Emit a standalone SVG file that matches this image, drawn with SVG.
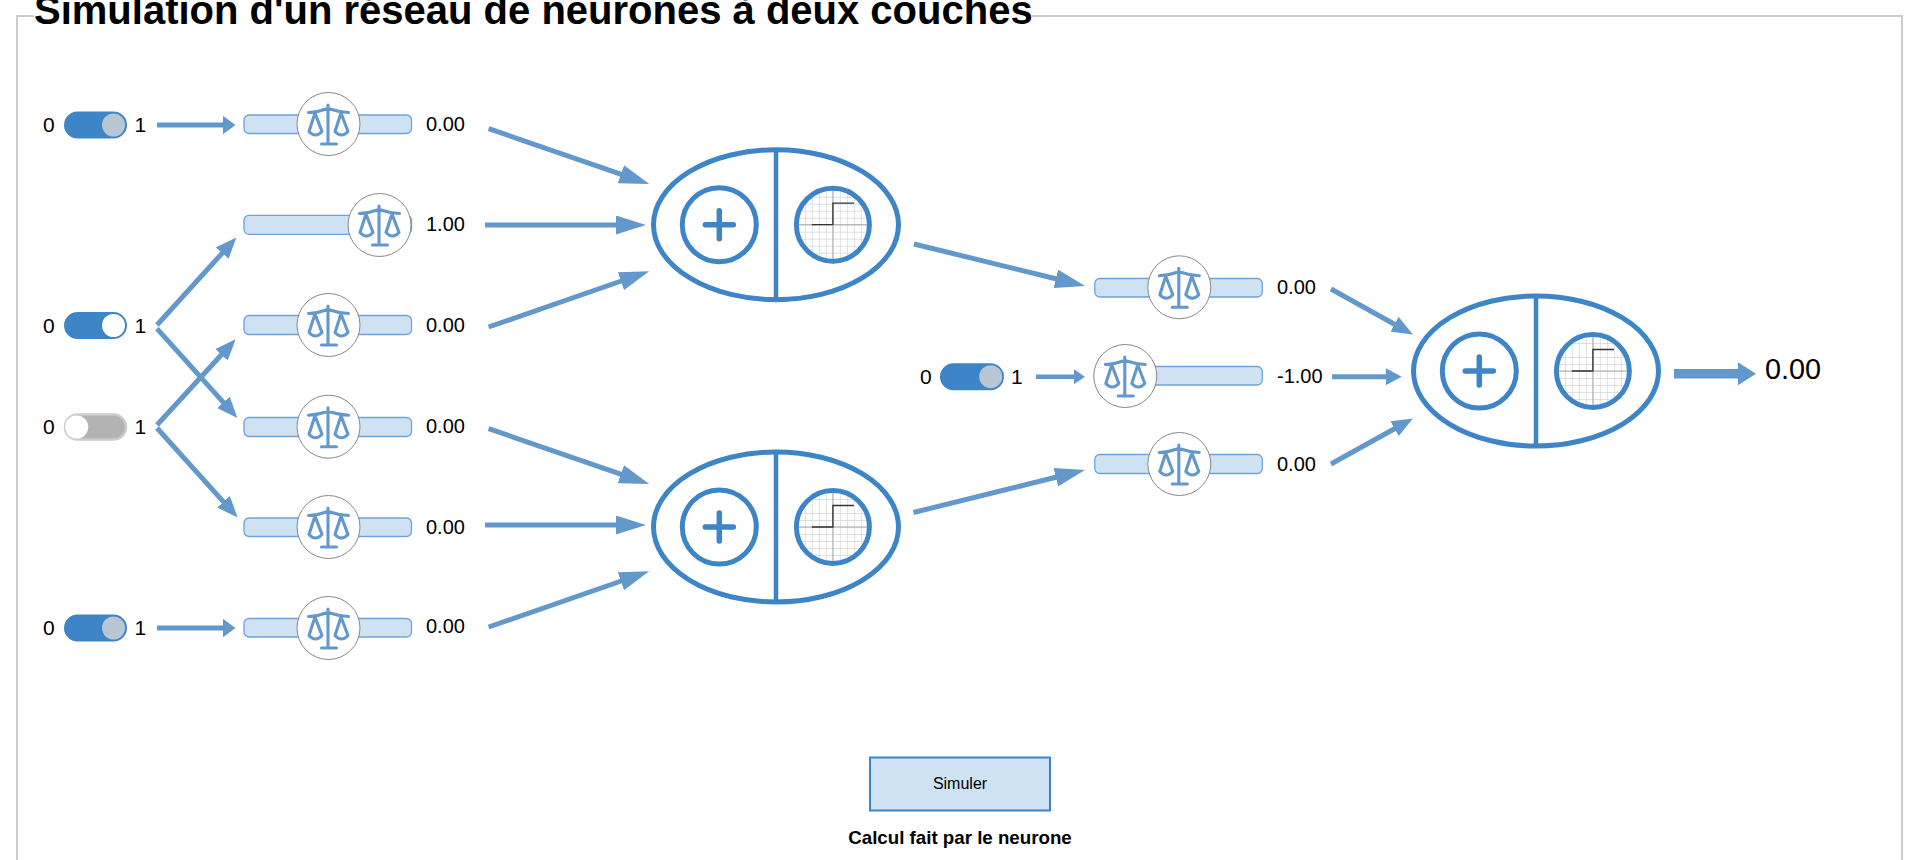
<svg xmlns="http://www.w3.org/2000/svg" width="1920" height="860" viewBox="0 0 1920 860">
<style>
text{font-family:"Liberation Sans",Arial,sans-serif;fill:#000}
.v{font-size:20px}
.t{font-size:21px}
.tr{fill:#3d85c6;stroke:#3d85c6;stroke-width:2}
.off{fill:#b3b3b3;stroke:#ccc;stroke-width:2.5}
.kg{fill:#b9c6d3}
.kw{fill:#fff}
.sl{fill:#cfe2f3;stroke:#6fa3d8;stroke-width:1.3}
.ar{stroke:#6398cc;stroke-width:5;fill:none}
.ne{fill:#fff;stroke:#3d85c6;stroke-width:5}
.nl{stroke:#3d85c6;stroke-width:4.5;fill:none}
.ic{stroke:#6398cc;stroke-width:3.1;fill:none;stroke-linecap:round;stroke-linejoin:round}
</style>
<defs>
<marker id="mh" markerUnits="userSpaceOnUse" markerWidth="13" markerHeight="19" refX="2" refY="9.5" orient="auto"><path d="M0 0L13 9.5L0 19Z" fill="#6398cc"/></marker>
<marker id="md" markerUnits="userSpaceOnUse" markerWidth="21" markerHeight="17" refX="2" refY="8.5" orient="auto"><path d="M0 0L21 8.5L0 17Z" fill="#6398cc"/></marker>
<marker id="mn" markerUnits="userSpaceOnUse" markerWidth="30" markerHeight="19" refX="2" refY="9.5" orient="auto"><path d="M0 0L30 9.5L0 19Z" fill="#6398cc"/></marker>
<marker id="ms" markerUnits="userSpaceOnUse" markerWidth="11" markerHeight="15" refX="2" refY="7.5" orient="auto"><path d="M0 0L11 7.5L0 15Z" fill="#6398cc"/></marker>
<marker id="mt" markerUnits="userSpaceOnUse" markerWidth="16" markerHeight="17" refX="2" refY="8.5" orient="auto"><path d="M0 0L16 8.5L0 17Z" fill="#6398cc"/></marker>
<marker id="mo" markerUnits="userSpaceOnUse" markerWidth="18" markerHeight="23" refX="1" refY="11.5" orient="auto"><path d="M0 0L18 11.5L0 23Z" fill="#6398cc"/></marker>
<pattern id="grid" patternUnits="userSpaceOnUse" width="7" height="7"><rect width="7" height="7" fill="#fff"/><path d="M0 0V7M0 0H7" stroke="#d6d6d6" stroke-width="1.4" fill="none"/></pattern>
<g id="scale">
<circle r="31.5" fill="#fff" stroke="#888" stroke-width="1"/>
<path class="ic" d="M-0.5-19V19M-7 20H8M-20-11.5Q-10-12-0.5-15.5Q10-12 20-11.5M-13.5-11L-19.5 7.5Q-13 14.5-6.5 7.5ZM12.5-11L6.5 7.5Q13 14.5 19.5 7.5Z"/>
</g>
<g id="neuron">
<ellipse class="ne" rx="122.5" ry="75"/>
<path class="nl" d="M0-75V75"/>
<circle class="ne" cx="-56.7" r="37"/>
<path d="M-70.7 0H-42.7M-56.7-14V14" stroke="#3d85c6" stroke-width="5.5" stroke-linecap="round" fill="none"/>
<g transform="translate(56.9 0)">
<circle r="35" fill="url(#grid)"/>
<path d="M0-35V35M-35 0H35" stroke="#aaa" stroke-width="1" fill="none"/>
<path d="M-21 0H0V-21.5H21" stroke="#333" stroke-width="1.3" fill="none"/>
<circle r="36.5" fill="none" stroke="#3d85c6" stroke-width="5"/>
</g>
</g>
</defs>
<rect width="1920" height="860" fill="#fff"/>
<path id="frame" d="M34 16H17V860M1032 16H1902V860" fill="none" stroke="#ccc" stroke-width="2"/>
<text id="title" x="34" y="24" font-size="40" font-weight="bold">Simulation d'un réseau de neurones à deux couches</text>
<g id="connectors">
<line class="ar" x1="157" y1="125" x2="224.5" y2="125" marker-end="url(#mh)"/>
<line class="ar" x1="157" y1="325" x2="223.6" y2="251.6" marker-end="url(#md)"/>
<line class="ar" x1="157" y1="328.7" x2="224.7" y2="403.9" marker-end="url(#md)"/>
<line class="ar" x1="157" y1="425" x2="222.8" y2="353.3" marker-end="url(#md)"/>
<line class="ar" x1="157" y1="428" x2="224.9" y2="503.3" marker-end="url(#md)"/>
<line class="ar" x1="157" y1="628" x2="224.5" y2="628" marker-end="url(#mh)"/>
<line class="ar" x1="488.6" y1="128.6" x2="622.8" y2="174.8" marker-end="url(#mn)"/>
<line class="ar" x1="485" y1="225" x2="618" y2="225" marker-end="url(#mn)"/>
<line class="ar" x1="488.6" y1="327" x2="622.8" y2="280.5" marker-end="url(#mn)"/>
<line class="ar" x1="488.6" y1="428.6" x2="622.8" y2="474.8" marker-end="url(#mn)"/>
<line class="ar" x1="485" y1="525" x2="618" y2="525" marker-end="url(#mn)"/>
<line class="ar" x1="488.6" y1="627" x2="622.8" y2="580.5" marker-end="url(#mn)"/>
<line class="ar" x1="914" y1="244" x2="1057.8" y2="279.3" marker-end="url(#mn)"/>
<line class="ar" x1="913.5" y1="512.5" x2="1057.8" y2="476.7" marker-end="url(#mn)"/>
<line class="ar" style="stroke-width:4.5" x1="1036" y1="376.7" x2="1076" y2="376.7" marker-end="url(#ms)"/>
<line class="ar" x1="1331" y1="289" x2="1396.3" y2="325.3" marker-end="url(#md)"/>
<line class="ar" x1="1332" y1="376.7" x2="1387.7" y2="376.7" marker-end="url(#mt)"/>
<line class="ar" x1="1331" y1="464" x2="1396.3" y2="427.7" marker-end="url(#md)"/>
<line class="ar" style="stroke-width:9.5" x1="1674" y1="373.7" x2="1739" y2="373.7" marker-end="url(#mo)"/>
</g>
<g id="input-1"><text class="t" x="43" y="132">0</text><rect class="tr" x="65" y="112.5" width="61" height="25" rx="12.5"/><circle class="kg" cx="113.5" cy="125" r="11.5"/><text class="t" x="134.5" y="132">1</text></g>
<g id="input-2"><text class="t" x="43" y="333">0</text><rect class="tr" x="65" y="313" width="61" height="25" rx="12.5"/><circle class="kw" cx="113.5" cy="325.5" r="11.5"/><text class="t" x="134.5" y="333">1</text></g>
<g id="input-3"><text class="t" x="43" y="434">0</text><rect class="off" x="65" y="414.5" width="61" height="25" rx="12.5"/><circle class="kw" cx="76.7" cy="427" r="11.5"/><text class="t" x="134.5" y="434">1</text></g>
<g id="input-4"><text class="t" x="43" y="635">0</text><rect class="tr" x="65" y="615.5" width="61" height="25" rx="12.5"/><circle class="kg" cx="113.5" cy="628" r="11.5"/><text class="t" x="134.5" y="635">1</text></g>
<g id="input-bias"><text class="t" x="920" y="384">0</text><rect class="tr" x="941" y="364.2" width="62" height="25" rx="12.5"/><circle class="kg" cx="990.7" cy="376.7" r="11.5"/><text class="t" x="1011" y="384">1</text></g>
<g id="weight-1"><rect class="sl" x="244" y="115" width="167.5" height="18.5" rx="5"/><use href="#scale" x="328.5" y="124"/><text class="v" x="426" y="131">0.00</text></g>
<g id="weight-2"><rect class="sl" x="244" y="215.3" width="167.5" height="19" rx="5"/><use href="#scale" x="379.5" y="225"/><text class="v" x="426" y="231">1.00</text></g>
<g id="weight-3"><rect class="sl" x="244" y="315.5" width="167.5" height="19" rx="5"/><use href="#scale" x="328.5" y="325"/><text class="v" x="426" y="332">0.00</text></g>
<g id="weight-4"><rect class="sl" x="244" y="417.5" width="167.5" height="19" rx="5"/><use href="#scale" x="328.5" y="426.7"/><text class="v" x="426" y="433">0.00</text></g>
<g id="weight-5"><rect class="sl" x="244" y="518" width="167.5" height="18.5" rx="5"/><use href="#scale" x="328.5" y="527"/><text class="v" x="426" y="533.5">0.00</text></g>
<g id="weight-6"><rect class="sl" x="244" y="618.5" width="167.5" height="18.5" rx="5"/><use href="#scale" x="328.5" y="628"/><text class="v" x="426" y="633">0.00</text></g>
<g id="weight-7"><rect class="sl" x="1094.8" y="278.5" width="167.5" height="18.5" rx="5"/><use href="#scale" x="1179.3" y="287.3"/><text class="v" x="1277" y="294">0.00</text></g>
<g id="weight-8"><rect class="sl" x="1094.8" y="366.5" width="167.5" height="18.5" rx="5"/><use href="#scale" x="1125.3" y="376"/><text class="v" x="1277" y="383">-1.00</text></g>
<g id="weight-9"><rect class="sl" x="1094.8" y="454.5" width="167.5" height="19" rx="5"/><use href="#scale" x="1179.3" y="464"/><text class="v" x="1277" y="471">0.00</text></g>
<g id="neuron-1"><use href="#neuron" x="776" y="224.7"/></g>
<g id="neuron-2"><use href="#neuron" x="776" y="527"/></g>
<g id="neuron-3"><use href="#neuron" x="1536" y="371"/></g>
<text id="output" x="1765" y="379" font-size="28.8">0.00</text>
<g id="button"><rect x="870" y="757.5" width="180" height="53" fill="#cfe2f3" stroke="#3d85c6" stroke-width="2"/><text x="960" y="789" font-size="16" text-anchor="middle">Simuler</text></g>
<text id="caption" x="960" y="844" font-size="18.72" font-weight="bold" text-anchor="middle">Calcul fait par le neurone</text>
</svg>
